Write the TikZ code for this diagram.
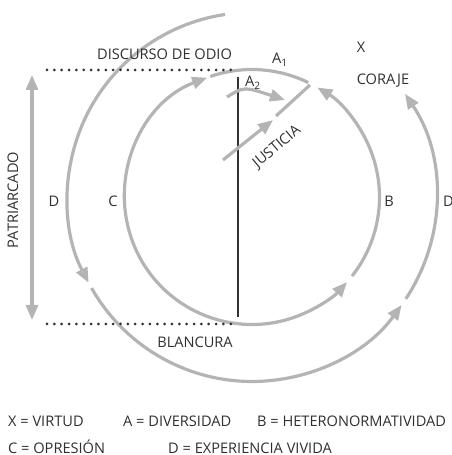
\documentclass[tikz,border=0pt]{standalone}
\usepackage{fontspec}
\setmainfont{Open Sans}
\usetikzlibrary{arrows.meta}
\definecolor{lg}{RGB}{180,180,180}
\definecolor{txt}{RGB}{48,48,48}
\begin{document}
\begin{tikzpicture}[x=1pt,y=1pt,
  garc/.style={draw=lg, line width=3.2pt},
  gtip/.style={-{Triangle[length=15pt,width=12pt]}},
  gtips/.style={{Triangle[length=15pt,width=12pt]}-{Triangle[length=15pt,width=12pt]}},
  lbl/.style={text=txt, inner sep=0pt, font=\fontsize{14.6}{17}\selectfont},
  dotline/.style={draw=txt, line width=3pt, line cap=round, dash pattern=on 0pt off 7.35pt}]
\useasboundingbox (0,0) rectangle (451,455);
\coordinate (O) at (252,258);
% inner circle
\draw[garc] ([shift={(109.1:127.5)}]O) arc[start angle=109.1,end angle=63.8,radius=127.5];
\draw[garc,gtips] ([shift={(110.6:127.5)}]O) arc[start angle=110.6,end angle=318.2,radius=127.5];
\draw[garc,gtip] ([shift={(-38.3:127.5)}]O) arc[start angle=-38.3,end angle=59.2,radius=127.5];
% outer circle
\draw[garc,gtip] ([shift={(98.4:184.5)}]O) arc[start angle=98.4,end angle=207.7,radius=184.5];
\draw[garc,gtip] ([shift={(209.6:184.5)}]O) arc[start angle=209.6,end angle=324.2,radius=184.5];
\draw[garc,gtip] ([shift={(-33.5:184.5)}]O) arc[start angle=-33.5,end angle=34,radius=184.5];
% dotted lines and vertical line
\coordinate (t1) at (47,385); \coordinate (t2) at (238,385);
\coordinate (b1) at (47,131); \coordinate (b2) at (238,131);
\draw[dotline] (t1) -- (t2);
\draw[dotline] (b1) -- (b2);
\coordinate (v1) at (238,378); \coordinate (v2) at (238,138);
\draw[draw=txt, line width=1.3pt] (v1) -- (v2);
% patriarcado arrow
\coordinate (p1) at (32,380); \coordinate (p2) at (32,135);
\draw[garc,gtips] (p1) -- (p2);
% justicia
\coordinate (j1) at (223,295); \coordinate (j2) at (273,335);
\coordinate (j3) at (276,339); \coordinate (j4) at (310,370);
\draw[garc,gtip] (j1) -- (j2);
\draw[garc] (j3) -- (j4);
% A2 arrow
\coordinate (a1) at (227,358); \coordinate (a2) at (285,355);
\draw[garc,gtip] (a1) .. controls (244,368.5) .. (a2);
% labels
\node[lbl, anchor=base] (dis) at (164.5,395) {DISCURSO DE ODIO};
\node[lbl, anchor=base west] (A1) at (272,391) {A\textsubscript{1}};
\node[lbl, anchor=base west] (A2) at (245,368) {A\textsubscript{2}};
\node[lbl, anchor=base] (X) at (361,402) {X};
\node[lbl, anchor=base] (cor) at (383,370) {CORAJE};
\node[lbl, anchor=base] (C) at (113,248) {C};
\node[lbl, anchor=base] (Dl) at (54,248) {D};
\node[lbl, anchor=base] (B) at (389,248) {B};
\node[lbl, anchor=base west] (Dr) at (443,248) {D};
\node[lbl, anchor=base] (bla) at (195,107) {BLANCURA};
\node[lbl, anchor=base, rotate=90] (pat) at (18,255) {PATRIARCADO};
\node[lbl, rotate=40] (jus) at (277,308) {JUSTICIA};
% legend
\node[lbl, anchor=base west] (l1) at (8,28) {X = VIRTUD};
\node[lbl, anchor=base west] (l2) at (123,28) {A = DIVERSIDAD};
\node[lbl, anchor=base west] (l3) at (257,28) {B = HETERONORMATIVIDAD};
\node[lbl, anchor=base west] (l4) at (8,1.5) {C = OPRESIÓN};
\node[lbl, anchor=base west] (l5) at (168,1.5) {D = EXPERIENCIA VIVIDA};
\end{tikzpicture}
\end{document}
